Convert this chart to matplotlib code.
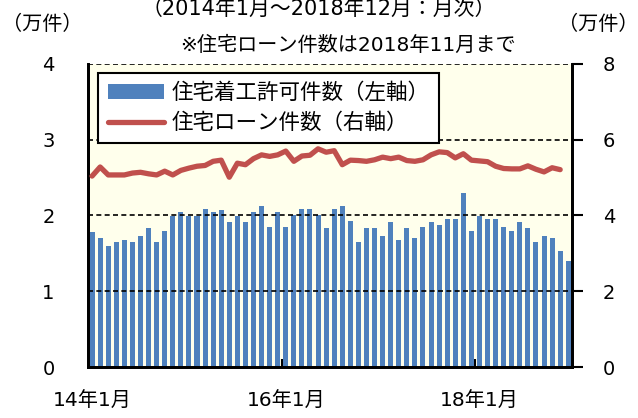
import numpy as np
import matplotlib
matplotlib.use('Agg')
import matplotlib.pyplot as plt

plt.rcParams['font.family'] = ['DejaVu Sans', 'Noto Sans CJK JP']

# 住宅着工許可件数（万件） 2014年1月～2018年12月
permits = [1.78, 1.70, 1.60, 1.65, 1.67, 1.65, 1.73, 1.83, 1.65, 1.80, 1.99, 2.04,
           1.99, 1.99, 2.09, 2.04, 2.07, 1.91, 1.99, 1.91, 2.04, 2.13, 1.85, 2.04,
           1.85, 2.01, 2.09, 2.09, 2.01, 1.83, 2.09, 2.13, 1.93, 1.65, 1.83, 1.83,
           1.73, 1.91, 1.67, 1.83, 1.70, 1.85, 1.91, 1.88, 1.96, 1.96, 2.30, 1.80,
           1.99, 1.96, 1.96, 1.85, 1.80, 1.91, 1.83, 1.65, 1.73, 1.70, 1.53, 1.40]

# 住宅ローン件数（万件） 2014年1月～2018年11月
loans = [5.04, 5.28, 5.07, 5.07, 5.07, 5.12, 5.14, 5.10, 5.07, 5.17, 5.07, 5.19,
         5.25, 5.30, 5.32, 5.43, 5.46, 5.01, 5.38, 5.34, 5.50, 5.60, 5.56, 5.60,
         5.70, 5.43, 5.57, 5.59, 5.76, 5.67, 5.71, 5.34, 5.46, 5.45, 5.43, 5.47,
         5.54, 5.50, 5.54, 5.45, 5.43, 5.47, 5.60, 5.68, 5.66, 5.52, 5.63, 5.46,
         5.44, 5.42, 5.30, 5.24, 5.23, 5.23, 5.31, 5.22, 5.15, 5.26, 5.21]

xlabels = ['14年1月', '16年1月', '18年1月']
xlabel_pos = [0, 24, 48]

fig = plt.figure(figsize=(6.38, 4.18), dpi=100)
ax = fig.add_axes([0.138, 0.122, 0.759, 0.725])
ax.set_facecolor('#FFFFEC')

x = np.arange(len(permits))
ax.bar(x, permits, width=0.62, color='#4F81BD', label='住宅着工許可件数（左軸）', zorder=2)
ax.set_xlim(-0.5, len(permits) - 0.5)
ax.set_ylim(0, 4)
ax.set_yticks([0, 1, 2, 3, 4])
ax.tick_params(axis='y', length=0, labelsize=14, pad=24)
for yv in [1, 2, 3, 4]:
    ax.axhline(yv, color='black', linestyle=(0, (3, 2)), linewidth=1.2, zorder=3)

ax.set_xticks(xlabel_pos)
ax.set_xticklabels(xlabels, fontsize=14.5)
ax.tick_params(axis='x', length=0, pad=18)
ax.set_xticks([23.5, 47.5], minor=True)
ax.tick_params(axis='x', which='minor', direction='in', length=6, width=1.5)

ax2 = ax.twinx()
ax2.plot(np.arange(len(loans)), loans, color='#C0504D', linewidth=3.8,
         solid_capstyle='round', label='住宅ローン件数（右軸）', zorder=3)
ax2.set_ylim(0, 8)
ax2.set_yticks([0, 2, 4, 6, 8])
ax2.tick_params(axis='y', direction='out', length=8, width=1.5, labelsize=14, pad=14)

for a in (ax, ax2):
    a.spines['top'].set_visible(False)
    for s in ['left', 'right', 'bottom']:
        a.spines[s].set_linewidth(2)

h1, l1 = ax.get_legend_handles_labels()
h2, l2 = ax2.get_legend_handles_labels()
leg = ax2.legend(h1 + h2, l1 + l2, loc='upper left', bbox_to_anchor=(0.012, 0.985),
                 fontsize=15.5, frameon=True, fancybox=False, edgecolor='black',
                 framealpha=1, handlelength=2.6, handletextpad=0.35,
                 borderpad=0.45, labelspacing=0.45, borderaxespad=0.2)
leg.get_frame().set_linewidth(1.5)

fig.text(0.5, 0.978, '（2014年1月～2018年12月：月次）', ha='center', va='center', fontsize=15)
fig.text(0.545, 0.892, '※住宅ローン件数は2018年11月まで', ha='center', va='center', fontsize=14.5)
fig.text(0.066, 0.942, '（万件）', ha='center', va='center', fontsize=14.5)
fig.text(0.937, 0.942, '（万件）', ha='center', va='center', fontsize=14.5)

fig.savefig('out.png', dpi=100)
